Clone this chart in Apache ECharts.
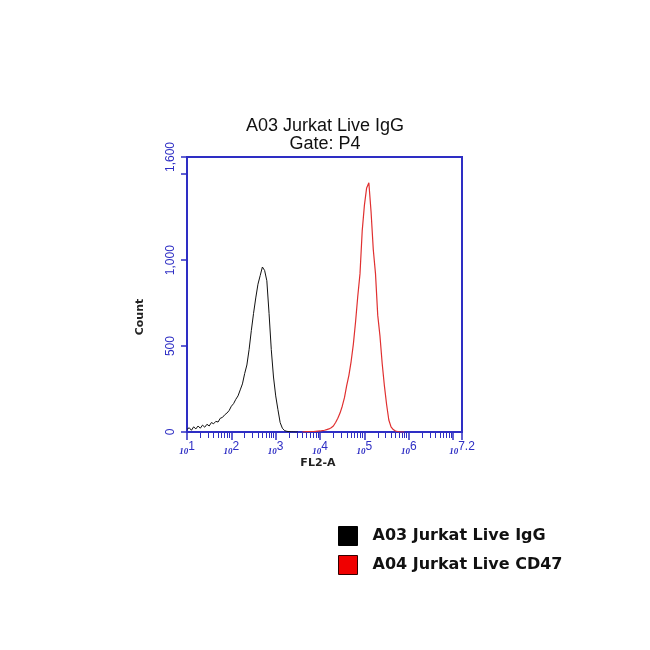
<!DOCTYPE html>
<html>
<head>
<meta charset="utf-8">
<script src="https://cdn.jsdelivr.net/npm/echarts@6/dist/echarts.min.js"></script>
<style>html,body{margin:0;padding:0;background:#fff;}#c{width:650px;height:650px;}</style>
</head>
<body>
<div id="c"></div>
<script>
// log10(FL2-A) bin positions and counts
const iggLog = [1.00,1.05,1.10,1.15,1.20,1.25,1.30,1.35,1.40,1.45,1.50,1.55,1.60,1.65,1.70,1.75,1.80,1.85,1.90,1.95,2.00,2.05,2.10,2.15,2.20,2.25,2.30,2.35,2.40,2.45,2.50,2.55,2.60,2.65,2.70,2.75,2.80,2.85,2.90,2.95,3.00,3.05,3.10,3.15,3.20,3.25,3.30,3.35,3.40,3.45,3.50];
const iggCount = [15,25,10,30,18,35,22,40,28,45,35,55,48,62,58,80,85,100,110,125,150,165,190,210,245,280,340,390,480,590,690,780,860,910,960,940,880,690,480,320,210,130,55,22,8,4,2,1,1,0,0];
const cd47Log = [3.60,3.65,3.70,3.75,3.80,3.85,3.90,3.95,4.00,4.05,4.10,4.15,4.20,4.25,4.30,4.35,4.40,4.45,4.50,4.55,4.60,4.65,4.70,4.75,4.80,4.85,4.90,4.95,5.00,5.05,5.10,5.15,5.20,5.25,5.30,5.35,5.40,5.45,5.50,5.55,5.60,5.65,5.70,5.75,5.80,5.85,5.90];
const cd47Count = [0,1,2,2,3,3,4,5,6,8,10,14,18,25,35,55,80,110,150,200,270,330,410,510,640,790,920,1170,1320,1420,1450,1280,1060,920,680,560,400,270,160,70,30,14,6,3,1,0,0];
const seriesNames = ['A03 Jurkat Live IgG', 'A04 Jurkat Live CD47'];
const titleLines = ['A03 Jurkat Live IgG', 'Gate: P4'];
const xMajorTicks = [1,2,3,4,5,6,7,7.2];
const xLabelValues = [1,2,3,4,5,6,7.2];
const yTickLabels = [0,500,1000,1600];

const blue = '#2e2ec4';
const xMinor = [];
for (let d = 1; d < 7.2; d++) {
  for (let k = 2; k <= 9; k++) {
    const v = d + Math.log10(k);
    if (v < 7.2) xMinor.push(+v.toFixed(4));
  }
}

const chart = echarts.init(document.getElementById('c'));
const titleStyle = {fontFamily: 'Liberation Sans', fontSize: 18, fontWeight: 'normal', color: '#111'};
chart.setOption({
  animation: false,
  backgroundColor: '#fff',
  title: [
    {text: titleLines[0], left: 'center', top: 117, padding: 0, textStyle: titleStyle},
    {text: titleLines[1], left: 'center', top: 135, padding: 0, textStyle: titleStyle}
  ],
  grid: {left: 187, right: 188, top: 157, bottom: 218, show: true, borderColor: blue, borderWidth: 2},
  legend: {
    orient: 'vertical', left: 333, top: 521, itemWidth: 19, itemHeight: 19, itemGap: 9,
    textStyle: {fontFamily: 'DejaVu Sans', fontWeight: 'bold', fontSize: 16, color: '#111', padding: [0,0,0,10]},
    data: [
      {name: seriesNames[0], icon: 'rect', itemStyle: {color: '#000', borderColor: '#000', borderWidth: 1}},
      {name: seriesNames[1], icon: 'rect', itemStyle: {color: '#f00000', borderColor: '#300', borderWidth: 1}}
    ]
  },
  graphic: [
    {type: 'text', x: 140, y: 317, rotation: Math.PI / 2,
     style: {text: 'Count', font: 'bold 11px "DejaVu Sans"', fill: '#222', align: 'center', verticalAlign: 'middle'}},
    {type: 'text', x: 318, y: 463,
     style: {text: 'FL2-A', font: 'bold 11px "DejaVu Sans"', fill: '#222', align: 'center', verticalAlign: 'middle'}}
  ],
  xAxis: [{
    type: 'value', min: 1, max: 7.2,
    axisLine: {show: true, lineStyle: {color: blue, width: 2}},
    axisTick: {show: true, length: 8, lineStyle: {color: blue, width: 1.5}, customValues: xMajorTicks},
    splitLine: {show: false},
    axisLabel: {
      customValues: xLabelValues, margin: 9, color: blue,
      formatter: v => '{b|10}{e|' + (Number.isInteger(v) ? v : v.toFixed(1)) + '}',
      rich: {
        b: {fontFamily: 'Liberation Serif', fontStyle: 'italic', fontWeight: 'bold', fontSize: 9, color: blue, verticalAlign: 'bottom', padding: [5,0,0,0]},
        e: {fontFamily: 'Liberation Sans', fontSize: 12, color: blue, verticalAlign: 'top', padding: [0,0,3,0]}
      }
    }
  }, {
    type: 'value', min: 1, max: 7.2, position: 'bottom', gridIndex: 0,
    axisLine: {show: false}, axisLabel: {show: false}, splitLine: {show: false},
    axisTick: {show: true, length: 6, lineStyle: {color: blue, width: 1}, customValues: xMinor}
  }],
  yAxis: {
    type: 'value', min: 0, max: 1600, interval: 500,
    axisLine: {show: true, lineStyle: {color: blue, width: 2}},
    axisTick: {show: true, length: 6, lineStyle: {color: blue, width: 1.5}},
    splitLine: {show: false},
    axisLabel: {
      rotate: 90, margin: 10, color: blue, fontFamily: 'Liberation Sans', fontSize: 12,
      formatter: v => yTickLabels.indexOf(v) >= 0 ? v.toLocaleString('en-US') : ''
    }
  },
  series: [{
    name: seriesNames[0], type: 'line', xAxisIndex: 0, showSymbol: false,
    lineStyle: {color: '#111', width: 1}, itemStyle: {color: '#000'},
    data: iggLog.map((x, i) => [x, iggCount[i]])
  }, {
    name: seriesNames[1], type: 'line', xAxisIndex: 0, showSymbol: false,
    lineStyle: {color: '#e03030', width: 1.2}, itemStyle: {color: '#f00000'},
    data: cd47Log.map((x, i) => [x, cd47Count[i]])
  }]
});
</script>
</body>
</html>
